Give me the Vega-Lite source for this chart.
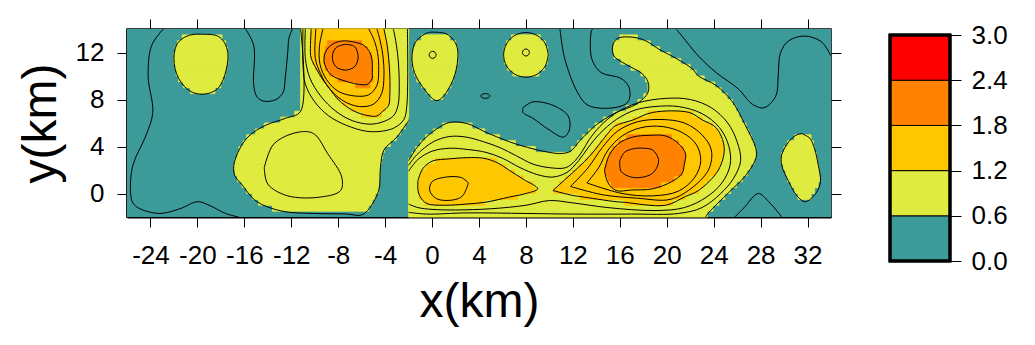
{
  "$schema": "https://vega.github.io/schema/vega-lite/v6.json",
  "background": "white",
  "padding": {"left": 16, "top": 17, "right": 5, "bottom": 5},
  "config": {
    "font": "Liberation Sans",
    "view": {"stroke": null},
    "axis": {"labelFont": "Liberation Sans", "titleFont": "Liberation Sans", "labelColor": "black", "titleColor": "black", "tickColor": "black", "domainColor": "black", "titleFontWeight": "normal", "grid": false}
  },
  "spacing": 45,
  "hconcat": [
    {
      "width": 704,
      "height": 188,
      "view": {"stroke": "black", "strokeWidth": 1.5},
      "layer": [
        {
          "data": {"values": [{"a": -26, "b": 34, "lo": -2, "hi": 14, "v": 0.3}]},
          "mark": {"type": "rect", "strokeWidth": 0},
          "encoding": {
            "x": {"field": "a", "type": "quantitative", "scale": {"domain": [-26, 34], "nice": false, "zero": false},
              "axis": {"orient": "bottom", "values": [-24, -20, -16, -12, -8, -4, 0, 4, 8, 12, 16, 20, 24, 28, 32], "labelExpr": "'' + datum.value", "tickSize": 10, "labelFontSize": 26, "labelPadding": 15, "title": "x(km)", "titleFontSize": 48, "titlePadding": 10, "domain": true, "domainWidth": 2}},
            "x2": {"field": "b"},
            "y": {"field": "lo", "type": "quantitative", "scale": {"domain": [-2, 14], "nice": false, "zero": false},
              "axis": {"orient": "left", "values": [0, 4, 8, 12], "tickSize": 10, "labelFontSize": 26, "labelPadding": 13, "title": "y(km)", "titleFontSize": 48, "titlePadding": 10, "domain": true, "domainWidth": 2}},
            "y2": {"field": "hi"},
            "color": {"field": "v", "type": "quantitative", "scale": {"type": "threshold", "domain": [0.6, 1.2, 1.8, 2.4], "range": ["#3c9a98", "#e0eb3f", "#ffc700", "#ff8200", "#ff0000"]}, "legend": null}
          }
        },
        {
          "data": {"values": [
            {"a": -11.2, "b": -2.0, "lo": 7, "hi": 14, "v": 0.9},
            {"a": -21.3, "b": -17.9, "lo": 13, "hi": 13.5, "v": 0.9},
            {"a": -21.7, "b": -17.6, "lo": 12.5, "hi": 13, "v": 0.9},
            {"a": -21.9, "b": -17.45, "lo": 12, "hi": 12.5, "v": 0.9},
            {"a": -22.0, "b": -17.4, "lo": 11.5, "hi": 12, "v": 0.9},
            {"a": -22.0, "b": -17.4, "lo": 11, "hi": 11.5, "v": 0.9},
            {"a": -21.9, "b": -17.5, "lo": 10.5, "hi": 11, "v": 0.9},
            {"a": -21.8, "b": -17.6, "lo": 10, "hi": 10.5, "v": 0.9},
            {"a": -21.6, "b": -17.8, "lo": 9.5, "hi": 10, "v": 0.9},
            {"a": -21.2, "b": -18.0, "lo": 9, "hi": 9.5, "v": 0.9},
            {"a": -20.6, "b": -18.5, "lo": 8.5, "hi": 9, "v": 0.9},
            {"a": -0.9, "b": 1.5, "lo": 13, "hi": 13.5, "v": 0.9},
            {"a": -1.4, "b": 2.0, "lo": 12.5, "hi": 13, "v": 0.9},
            {"a": -1.6, "b": 2.15, "lo": 12, "hi": 12.5, "v": 0.9},
            {"a": -1.7, "b": 2.2, "lo": 11.5, "hi": 12, "v": 0.9},
            {"a": -1.7, "b": 2.2, "lo": 11, "hi": 11.5, "v": 0.9},
            {"a": -1.65, "b": 2.1, "lo": 10.5, "hi": 11, "v": 0.9},
            {"a": -1.5, "b": 1.95, "lo": 10, "hi": 10.5, "v": 0.9},
            {"a": -1.3, "b": 1.8, "lo": 9.5, "hi": 10, "v": 0.9},
            {"a": -0.9, "b": 1.6, "lo": 9, "hi": 9.5, "v": 0.9},
            {"a": -0.5, "b": 1.3, "lo": 8.5, "hi": 9, "v": 0.9},
            {"a": -0.1, "b": 0.9, "lo": 8, "hi": 8.5, "v": 0.9},
            {"a": 6.77, "b": 9.23, "lo": 13, "hi": 13.5, "v": 0.9},
            {"a": 6.35, "b": 9.65, "lo": 12.5, "hi": 13, "v": 0.9},
            {"a": 6.15, "b": 9.85, "lo": 12, "hi": 12.5, "v": 0.9},
            {"a": 6.1, "b": 9.9, "lo": 11.5, "hi": 12, "v": 0.9},
            {"a": 6.18, "b": 9.82, "lo": 11, "hi": 11.5, "v": 0.9},
            {"a": 6.42, "b": 9.58, "lo": 10.5, "hi": 11, "v": 0.9},
            {"a": 6.9, "b": 9.1, "lo": 10, "hi": 10.5, "v": 0.9},
            {"a": 16.0, "b": 17.5, "lo": 13, "hi": 13.5, "v": 0.9},
            {"a": 15.5, "b": 18.6, "lo": 12.5, "hi": 13, "v": 0.9},
            {"a": 15.4, "b": 19.4, "lo": 12, "hi": 12.5, "v": 0.9},
            {"a": 15.5, "b": 20.3, "lo": 11.5, "hi": 12, "v": 0.9},
            {"a": 16.1, "b": 21.2, "lo": 11, "hi": 11.5, "v": 0.9},
            {"a": 16.95, "b": 22.0, "lo": 10.5, "hi": 11, "v": 0.9},
            {"a": 17.8, "b": 22.5, "lo": 10, "hi": 10.5, "v": 0.9},
            {"a": 18.2, "b": 23.2, "lo": 9.5, "hi": 10, "v": 0.9},
            {"a": 18.4, "b": 24.1, "lo": 9, "hi": 9.5, "v": 0.9},
            {"a": 18.4, "b": 24.65, "lo": 8.5, "hi": 9, "v": 0.9},
            {"a": 18.05, "b": 25.15, "lo": 8, "hi": 8.5, "v": 0.9},
            {"a": 17.55, "b": 25.6, "lo": 7.5, "hi": 8, "v": 0.9},
            {"a": 16.55, "b": 25.9, "lo": 7, "hi": 7.5, "v": 0.9},
            {"a": -11.7, "b": -2.0, "lo": 6.5, "hi": 7, "v": 0.9},
            {"a": 15.45, "b": 26.15, "lo": 6.5, "hi": 7, "v": 0.9},
            {"a": -12.9, "b": -2.05, "lo": 6, "hi": 6.5, "v": 0.9},
            {"a": 14.6, "b": 26.4, "lo": 6, "hi": 6.5, "v": 0.9},
            {"a": -14.3, "b": -2.3, "lo": 5.5, "hi": 6, "v": 0.9},
            {"a": 0.9, "b": 3.4, "lo": 5.5, "hi": 6, "v": 0.9},
            {"a": 13.9, "b": 26.75, "lo": 5.5, "hi": 6, "v": 0.9},
            {"a": -15.05, "b": -2.7, "lo": 5, "hi": 5.5, "v": 0.9},
            {"a": 0.1, "b": 4.5, "lo": 5, "hi": 5.5, "v": 0.9},
            {"a": 13.35, "b": 26.95, "lo": 5, "hi": 5.5, "v": 0.9},
            {"a": -15.8, "b": -3.05, "lo": 4.5, "hi": 5, "v": 0.9},
            {"a": -0.55, "b": 5.75, "lo": 4.5, "hi": 5, "v": 0.9},
            {"a": 12.85, "b": 27.2, "lo": 4.5, "hi": 5, "v": 0.9},
            {"a": 30.9, "b": 32.3, "lo": 4.5, "hi": 5, "v": 0.9},
            {"a": -16.1, "b": -3.55, "lo": 4, "hi": 4.5, "v": 0.9},
            {"a": -1.0, "b": 7.1, "lo": 4, "hi": 4.5, "v": 0.9},
            {"a": 12.4, "b": 27.4, "lo": 4, "hi": 4.5, "v": 0.9},
            {"a": 30.3, "b": 32.5, "lo": 4, "hi": 4.5, "v": 0.9},
            {"a": -16.45, "b": -4.05, "lo": 3.5, "hi": 4, "v": 0.9},
            {"a": -1.4, "b": 8.8, "lo": 3.5, "hi": 4, "v": 0.9},
            {"a": 11.9, "b": 27.6, "lo": 3.5, "hi": 4, "v": 0.9},
            {"a": 30.0, "b": 32.6, "lo": 3.5, "hi": 4, "v": 0.9},
            {"a": -16.6, "b": -4.2, "lo": 3, "hi": 3.5, "v": 0.9},
            {"a": -1.7, "b": 27.6, "lo": 3, "hi": 3.5, "v": 0.9},
            {"a": 29.8, "b": 32.75, "lo": 3, "hi": 3.5, "v": 0.9},
            {"a": -16.8, "b": -4.3, "lo": 2.5, "hi": 3, "v": 0.9},
            {"a": -2.0, "b": 27.45, "lo": 2.5, "hi": 3, "v": 0.9},
            {"a": 29.75, "b": 32.85, "lo": 2.5, "hi": 3, "v": 0.9},
            {"a": -16.9, "b": -4.4, "lo": 2, "hi": 2.5, "v": 0.9},
            {"a": -2.0, "b": 27.15, "lo": 2, "hi": 2.5, "v": 0.9},
            {"a": 29.95, "b": 32.95, "lo": 2, "hi": 2.5, "v": 0.9},
            {"a": -16.8, "b": -4.45, "lo": 1.5, "hi": 2, "v": 0.9},
            {"a": -2.0, "b": 26.85, "lo": 1.5, "hi": 2, "v": 0.9},
            {"a": 30.15, "b": 33.0, "lo": 1.5, "hi": 2, "v": 0.9},
            {"a": -16.6, "b": -4.5, "lo": 1, "hi": 1.5, "v": 0.9},
            {"a": -2.0, "b": 26.45, "lo": 1, "hi": 1.5, "v": 0.9},
            {"a": 30.3, "b": 33.05, "lo": 1, "hi": 1.5, "v": 0.9},
            {"a": -16.2, "b": -4.5, "lo": 0.5, "hi": 1, "v": 0.9},
            {"a": -2.0, "b": 25.95, "lo": 0.5, "hi": 1, "v": 0.9},
            {"a": 30.6, "b": 32.9, "lo": 0.5, "hi": 1, "v": 0.9},
            {"a": -15.8, "b": -4.55, "lo": 0, "hi": 0.5, "v": 0.9},
            {"a": -2.0, "b": 25.45, "lo": 0, "hi": 0.5, "v": 0.9},
            {"a": 30.9, "b": 32.6, "lo": 0, "hi": 0.5, "v": 0.9},
            {"a": -15.3, "b": -4.85, "lo": -0.5, "hi": 0, "v": 0.9},
            {"a": -2.0, "b": 24.95, "lo": -0.5, "hi": 0, "v": 0.9},
            {"a": 31.2, "b": 32.3, "lo": -0.5, "hi": 0, "v": 0.9},
            {"a": -14.8, "b": -5.1, "lo": -1, "hi": -0.5, "v": 0.9},
            {"a": -2.0, "b": 24.45, "lo": -1, "hi": -0.5, "v": 0.9},
            {"a": -13.6, "b": -5.4, "lo": -1.5, "hi": -1, "v": 0.9},
            {"a": -2.0, "b": 23.95, "lo": -1.5, "hi": -1, "v": 0.9},
            {"a": -2.0, "b": 23.45, "lo": -2, "hi": -1.5, "v": 0.9},
            {"a": -10.3, "b": -4.05, "lo": 13.5, "hi": 14, "v": 1.5},
            {"a": -10.35, "b": -3.95, "lo": 13, "hi": 13.5, "v": 1.5},
            {"a": -10.35, "b": -3.85, "lo": 12.5, "hi": 13, "v": 1.5},
            {"a": -10.35, "b": -3.75, "lo": 12, "hi": 12.5, "v": 1.5},
            {"a": -10.35, "b": -3.7, "lo": 11.5, "hi": 12, "v": 1.5},
            {"a": -10.2, "b": -3.65, "lo": 11, "hi": 11.5, "v": 1.5},
            {"a": -9.95, "b": -3.6, "lo": 10.5, "hi": 11, "v": 1.5},
            {"a": -9.65, "b": -3.6, "lo": 10, "hi": 10.5, "v": 1.5},
            {"a": -9.35, "b": -3.6, "lo": 9.5, "hi": 10, "v": 1.5},
            {"a": -8.95, "b": -3.6, "lo": 9, "hi": 9.5, "v": 1.5},
            {"a": -8.6, "b": -3.65, "lo": 8.5, "hi": 9, "v": 1.5},
            {"a": -8.2, "b": -3.7, "lo": 8, "hi": 8.5, "v": 1.5},
            {"a": -7.6, "b": -3.65, "lo": 7.5, "hi": 8, "v": 1.5},
            {"a": -6.9, "b": -4.0, "lo": 7, "hi": 7.5, "v": 1.5},
            {"a": -6.0, "b": -4.3, "lo": 6.5, "hi": 7, "v": 1.5},
            {"a": 0.3, "b": 5.5, "lo": 2.5, "hi": 3, "v": 1.5},
            {"a": -0.5, "b": 6.3, "lo": 2, "hi": 2.5, "v": 1.5},
            {"a": -0.9, "b": 7.0, "lo": 1.5, "hi": 2, "v": 1.5},
            {"a": -1.1, "b": 7.8, "lo": 1, "hi": 1.5, "v": 1.5},
            {"a": -1.2, "b": 8.6, "lo": 0.5, "hi": 1, "v": 1.5},
            {"a": -1.2, "b": 8.8, "lo": 0, "hi": 0.5, "v": 1.5},
            {"a": -1.1, "b": 7.3, "lo": -0.5, "hi": 0, "v": 1.5},
            {"a": -0.6, "b": 4.5, "lo": -1, "hi": -0.5, "v": 1.5},
            {"a": 18.4, "b": 22.2, "lo": 6.5, "hi": 7, "v": 1.5},
            {"a": 17.1, "b": 23.05, "lo": 6, "hi": 6.5, "v": 1.5},
            {"a": 15.6, "b": 23.9, "lo": 5.5, "hi": 6, "v": 1.5},
            {"a": 15.1, "b": 24.35, "lo": 5, "hi": 5.5, "v": 1.5},
            {"a": 14.7, "b": 24.55, "lo": 4.5, "hi": 5, "v": 1.5},
            {"a": 14.3, "b": 24.75, "lo": 4, "hi": 4.5, "v": 1.5},
            {"a": 13.9, "b": 24.86, "lo": 3.5, "hi": 4, "v": 1.5},
            {"a": 13.5, "b": 24.73, "lo": 3, "hi": 3.5, "v": 1.5},
            {"a": 13.05, "b": 24.6, "lo": 2.5, "hi": 3, "v": 1.5},
            {"a": 12.5, "b": 24.47, "lo": 2, "hi": 2.5, "v": 1.5},
            {"a": 11.95, "b": 24.16, "lo": 1.5, "hi": 2, "v": 1.5},
            {"a": 11.4, "b": 23.67, "lo": 1, "hi": 1.5, "v": 1.5},
            {"a": 10.85, "b": 23.19, "lo": 0.5, "hi": 1, "v": 1.5},
            {"a": 10.4, "b": 22.7, "lo": 0, "hi": 0.5, "v": 1.5},
            {"a": 12.56, "b": 21.6, "lo": -0.5, "hi": 0, "v": 1.5},
            {"a": 16.4, "b": 20.5, "lo": -1, "hi": -0.5, "v": 1.5},
            {"a": -8.9, "b": -6.0, "lo": 12.5, "hi": 13, "v": 2.1},
            {"a": -9.1, "b": -5.5, "lo": 12, "hi": 12.5, "v": 2.1},
            {"a": -9.2, "b": -5.2, "lo": 11.5, "hi": 12, "v": 2.1},
            {"a": -9.2, "b": -5.1, "lo": 11, "hi": 11.5, "v": 2.1},
            {"a": -9.1, "b": -5.1, "lo": 10.5, "hi": 11, "v": 2.1},
            {"a": -8.75, "b": -5.1, "lo": 10, "hi": 10.5, "v": 2.1},
            {"a": -8.0, "b": -5.05, "lo": 9.5, "hi": 10, "v": 2.1},
            {"a": -6.5, "b": -5.3, "lo": 9, "hi": 9.5, "v": 2.1},
            {"a": 16.6, "b": 20.4, "lo": 4.5, "hi": 5, "v": 2.1},
            {"a": 15.9, "b": 21.0, "lo": 4, "hi": 4.5, "v": 2.1},
            {"a": 15.4, "b": 21.4, "lo": 3.5, "hi": 4, "v": 2.1},
            {"a": 15.1, "b": 21.6, "lo": 3, "hi": 3.5, "v": 2.1},
            {"a": 14.9, "b": 21.55, "lo": 2.5, "hi": 3, "v": 2.1},
            {"a": 14.75, "b": 21.45, "lo": 2, "hi": 2.5, "v": 2.1},
            {"a": 14.75, "b": 21.3, "lo": 1.5, "hi": 2, "v": 2.1},
            {"a": 15.0, "b": 20.6, "lo": 1, "hi": 1.5, "v": 2.1},
            {"a": 15.3, "b": 19.5, "lo": 0.5, "hi": 1, "v": 2.1}
          ]},
          "mark": {"type": "rect", "strokeWidth": 0.9},
          "encoding": {
            "x": {"field": "a", "type": "quantitative",
              "axis": {"orient": "top", "values": [-24, -20, -16, -12, -8, -4, 0, 4, 8, 12, 16, 20, 24, 28, 32], "tickSize": 10, "labels": false, "title": null, "domain": false}},
            "x2": {"field": "b"},
            "y": {"field": "lo", "type": "quantitative",
              "axis": {"orient": "right", "values": [0, 4, 8, 12], "tickSize": 10, "labels": false, "title": null, "domain": false}},
            "y2": {"field": "hi"},
            "color": {"field": "v", "type": "quantitative", "scale": {"type": "threshold", "domain": [0.6, 1.2, 1.8, 2.4], "range": ["#3c9a98", "#e0eb3f", "#ffc700", "#ff8200", "#ff0000"]}, "legend": null},
            "stroke": {"field": "v", "type": "quantitative", "scale": {"type": "threshold", "domain": [0.6, 1.2, 1.8, 2.4], "range": ["#3c9a98", "#e0eb3f", "#ffc700", "#ff8200", "#ff0000"]}, "legend": null}
          }
        },
        {
          "data": {"values": [
            {"k": "A", "x": -19.6, "y": 13.55}, {"k": "A", "x": -18.4, "y": 13.45}, {"k": "A", "x": -17.8, "y": 13.0}, {"k": "A", "x": -17.45, "y": 12.2}, {"k": "A", "x": -17.4, "y": 11.4}, {"k": "A", "x": -17.55, "y": 10.5}, {"k": "A", "x": -17.8, "y": 9.7}, {"k": "A", "x": -18.2, "y": 9.0}, {"k": "A", "x": -18.8, "y": 8.6}, {"k": "A", "x": -19.6, "y": 8.45}, {"k": "A", "x": -20.4, "y": 8.6}, {"k": "A", "x": -21.1, "y": 9.1}, {"k": "A", "x": -21.6, "y": 9.8}, {"k": "A", "x": -21.9, "y": 10.6}, {"k": "A", "x": -22.0, "y": 11.5}, {"k": "A", "x": -21.9, "y": 12.3}, {"k": "A", "x": -21.6, "y": 12.9}, {"k": "A", "x": -21.0, "y": 13.35}, {"k": "A", "x": -20.3, "y": 13.55}, {"k": "A", "x": -19.6, "y": 13.55},
            {"k": "B06", "x": -11.2, "y": 14}, {"k": "B06", "x": -11.2, "y": 7.0}, {"k": "B06", "x": -12.5, "y": 6.4}, {"k": "B06", "x": -14.2, "y": 5.8}, {"k": "B06", "x": -15.6, "y": 4.9}, {"k": "B06", "x": -16.4, "y": 3.8}, {"k": "B06", "x": -16.9, "y": 2.4}, {"k": "B06", "x": -16.8, "y": 1.5}, {"k": "B06", "x": -16.2, "y": 0.75}, {"k": "B06", "x": -15.0, "y": -0.65}, {"k": "B06", "x": -12.8, "y": -1.5}, {"k": "B06", "x": -10.0, "y": -1.7}, {"k": "B06", "x": -7.2, "y": -1.75}, {"k": "B06", "x": -6.1, "y": -1.85}, {"k": "B06", "x": -5.5, "y": -1.45}, {"k": "B06", "x": -4.55, "y": 0.25}, {"k": "B06", "x": -4.4, "y": 2.2}, {"k": "B06", "x": -4.1, "y": 3.7}, {"k": "B06", "x": -3.0, "y": 4.8}, {"k": "B06", "x": -2.0, "y": 6.2},
            {"k": "C", "x": 0.3, "y": 13.73}, {"k": "C", "x": 1.2, "y": 13.6}, {"k": "C", "x": 1.8, "y": 13.1}, {"k": "C", "x": 2.15, "y": 12.4}, {"k": "C", "x": 2.2, "y": 11.6}, {"k": "C", "x": 2.05, "y": 10.5}, {"k": "C", "x": 1.8, "y": 9.7}, {"k": "C", "x": 1.4, "y": 8.9}, {"k": "C", "x": 0.9, "y": 8.2}, {"k": "C", "x": 0.4, "y": 7.9}, {"k": "C", "x": -0.1, "y": 8.2}, {"k": "C", "x": -0.6, "y": 8.8}, {"k": "C", "x": -1.1, "y": 9.5}, {"k": "C", "x": -1.5, "y": 10.3}, {"k": "C", "x": -1.7, "y": 11.2}, {"k": "C", "x": -1.65, "y": 12.2}, {"k": "C", "x": -1.4, "y": 12.9}, {"k": "C", "x": -0.9, "y": 13.4}, {"k": "C", "x": -0.3, "y": 13.7}, {"k": "C", "x": 0.3, "y": 13.73},
            {"k": "D", "x": 9.9, "y": 11.8}, {"k": "D", "x": 9.65, "y": 12.75}, {"k": "D", "x": 8.95, "y": 13.45}, {"k": "D", "x": 8.0, "y": 13.7}, {"k": "D", "x": 7.05, "y": 13.45}, {"k": "D", "x": 6.35, "y": 12.75}, {"k": "D", "x": 6.1, "y": 11.8}, {"k": "D", "x": 6.35, "y": 10.85}, {"k": "D", "x": 7.05, "y": 10.15}, {"k": "D", "x": 8.0, "y": 9.9}, {"k": "D", "x": 8.95, "y": 10.15}, {"k": "D", "x": 9.65, "y": 10.85}, {"k": "D", "x": 9.9, "y": 11.8},
            {"k": "F", "x": 31.5, "y": 5.1}, {"k": "F", "x": 32.2, "y": 4.7}, {"k": "F", "x": 32.6, "y": 3.8}, {"k": "F", "x": 32.9, "y": 2.5}, {"k": "F", "x": 33.1, "y": 1.0}, {"k": "F", "x": 32.7, "y": 0.0}, {"k": "F", "x": 31.8, "y": -0.7}, {"k": "F", "x": 31.1, "y": -0.2}, {"k": "F", "x": 30.4, "y": 1.0}, {"k": "F", "x": 29.8, "y": 2.4}, {"k": "F", "x": 29.8, "y": 3.3}, {"k": "F", "x": 30.4, "y": 4.4}, {"k": "F", "x": 31.0, "y": 4.95}, {"k": "F", "x": 31.5, "y": 5.1},
            {"k": "E06", "x": -2.0, "y": 2.8}, {"k": "E06", "x": -1.3, "y": 3.9}, {"k": "E06", "x": -0.5, "y": 4.8}, {"k": "E06", "x": 0.4, "y": 5.5}, {"k": "E06", "x": 1.5, "y": 6.05}, {"k": "E06", "x": 3.0, "y": 5.95}, {"k": "E06", "x": 4.4, "y": 5.3}, {"k": "E06", "x": 6.6, "y": 4.4}, {"k": "E06", "x": 8.6, "y": 3.8}, {"k": "E06", "x": 10.0, "y": 3.5}, {"k": "E06", "x": 11.0, "y": 3.4}, {"k": "E06", "x": 11.8, "y": 3.6}, {"k": "E06", "x": 12.6, "y": 4.5}, {"k": "E06", "x": 13.5, "y": 5.4}, {"k": "E06", "x": 14.2, "y": 6.0}, {"k": "E06", "x": 15.7, "y": 6.9}, {"k": "E06", "x": 17.4, "y": 7.6}, {"k": "E06", "x": 18.4, "y": 8.6}, {"k": "E06", "x": 18.4, "y": 9.5}, {"k": "E06", "x": 17.9, "y": 10.2}, {"k": "E06", "x": 16.5, "y": 11.0}, {"k": "E06", "x": 15.5, "y": 11.7}, {"k": "E06", "x": 15.4, "y": 12.6}, {"k": "E06", "x": 15.8, "y": 13.2}, {"k": "E06", "x": 17.1, "y": 13.3}, {"k": "E06", "x": 18.2, "y": 13.0}, {"k": "E06", "x": 19.3, "y": 12.3}, {"k": "E06", "x": 20.8, "y": 11.5}, {"k": "E06", "x": 22.2, "y": 10.6}, {"k": "E06", "x": 22.7, "y": 10.0}, {"k": "E06", "x": 24.2, "y": 9.2}, {"k": "E06", "x": 25.6, "y": 7.8}, {"k": "E06", "x": 26.7, "y": 5.8}, {"k": "E06", "x": 27.6, "y": 3.8}, {"k": "E06", "x": 27.6, "y": 3.0}, {"k": "E06", "x": 26.7, "y": 1.5}, {"k": "E06", "x": 25.3, "y": 0.1}, {"k": "E06", "x": 23.6, "y": -1.6}, {"k": "E06", "x": 23.3, "y": -2.0},
            {"k": "BG", "x": -10.3, "y": 14.0}, {"k": "BG", "x": -10.35, "y": 13.0}, {"k": "BG", "x": -10.35, "y": 11.75}, {"k": "BG", "x": -10.2, "y": 11.25}, {"k": "BG", "x": -9.8, "y": 10.5}, {"k": "BG", "x": -9.35, "y": 9.75}, {"k": "BG", "x": -8.6, "y": 8.75}, {"k": "BG", "x": -8.1, "y": 8.1}, {"k": "BG", "x": -7.3, "y": 7.4}, {"k": "BG", "x": -6.4, "y": 6.9}, {"k": "BG", "x": -5.3, "y": 6.6}, {"k": "BG", "x": -4.7, "y": 6.6}, {"k": "BG", "x": -4.2, "y": 7.0}, {"k": "BG", "x": -3.7, "y": 7.5}, {"k": "BG", "x": -3.6, "y": 8.5}, {"k": "BG", "x": -3.6, "y": 10.0}, {"k": "BG", "x": -3.7, "y": 11.5}, {"k": "BG", "x": -3.85, "y": 12.75}, {"k": "BG", "x": -4.05, "y": 13.75}, {"k": "BG", "x": -4.1, "y": 14.0},
            {"k": "BO", "x": -7.5, "y": 13.0}, {"k": "BO", "x": -6.7, "y": 12.9}, {"k": "BO", "x": -5.8, "y": 12.6}, {"k": "BO", "x": -5.3, "y": 12.0}, {"k": "BO", "x": -5.1, "y": 11.2}, {"k": "BO", "x": -5.1, "y": 10.3}, {"k": "BO", "x": -5.1, "y": 9.8}, {"k": "BO", "x": -5.5, "y": 9.3}, {"k": "BO", "x": -5.8, "y": 9.25}, {"k": "BO", "x": -6.6, "y": 9.35}, {"k": "BO", "x": -7.5, "y": 9.6}, {"k": "BO", "x": -8.3, "y": 9.9}, {"k": "BO", "x": -8.8, "y": 10.3}, {"k": "BO", "x": -9.2, "y": 11.2}, {"k": "BO", "x": -9.1, "y": 12.0}, {"k": "BO", "x": -8.8, "y": 12.45}, {"k": "BO", "x": -8.2, "y": 12.85}, {"k": "BO", "x": -7.5, "y": 13.0},
            {"k": "B08", "x": -11.0, "y": 14}, {"k": "B08", "x": -11.0, "y": 11}, {"k": "B08", "x": -10.8, "y": 9.3}, {"k": "B08", "x": -10.0, "y": 7.8}, {"k": "B08", "x": -8.8, "y": 6.6}, {"k": "B08", "x": -7.3, "y": 5.8}, {"k": "B08", "x": -5.6, "y": 5.3}, {"k": "B08", "x": -4.3, "y": 5.3}, {"k": "B08", "x": -3.2, "y": 5.6}, {"k": "B08", "x": -2.4, "y": 6.3}, {"k": "B08", "x": -2.15, "y": 7.5}, {"k": "B08", "x": -2.1, "y": 14},
            {"k": "B10", "x": -10.8, "y": 14}, {"k": "B10", "x": -10.8, "y": 11.5}, {"k": "B10", "x": -10.4, "y": 9.8}, {"k": "B10", "x": -9.5, "y": 8.3}, {"k": "B10", "x": -8.2, "y": 7.0}, {"k": "B10", "x": -6.8, "y": 6.2}, {"k": "B10", "x": -5.3, "y": 5.9}, {"k": "B10", "x": -4.2, "y": 6.1}, {"k": "B10", "x": -3.3, "y": 6.6}, {"k": "B10", "x": -2.9, "y": 7.5}, {"k": "B10", "x": -2.8, "y": 9.5}, {"k": "B10", "x": -2.9, "y": 11.5}, {"k": "B10", "x": -3.1, "y": 13.0}, {"k": "B10", "x": -3.3, "y": 14},
            {"k": "B14", "x": -9.9, "y": 14}, {"k": "B14", "x": -9.95, "y": 11.5}, {"k": "B14", "x": -9.5, "y": 10.2}, {"k": "B14", "x": -8.8, "y": 9.0}, {"k": "B14", "x": -7.6, "y": 7.9}, {"k": "B14", "x": -6.2, "y": 7.4}, {"k": "B14", "x": -5.0, "y": 7.6}, {"k": "B14", "x": -4.3, "y": 8.5}, {"k": "B14", "x": -4.1, "y": 10.0}, {"k": "B14", "x": -4.2, "y": 11.8}, {"k": "B14", "x": -4.5, "y": 13.3}, {"k": "B14", "x": -4.7, "y": 14},
            {"k": "B16", "x": -9.3, "y": 14}, {"k": "B16", "x": -9.6, "y": 12.5}, {"k": "B16", "x": -9.55, "y": 11.0}, {"k": "B16", "x": -9.0, "y": 9.7}, {"k": "B16", "x": -8.0, "y": 8.7}, {"k": "B16", "x": -6.6, "y": 8.3}, {"k": "B16", "x": -5.4, "y": 8.4}, {"k": "B16", "x": -4.7, "y": 9.2}, {"k": "B16", "x": -4.55, "y": 10.5}, {"k": "B16", "x": -4.65, "y": 12.0}, {"k": "B16", "x": -5.0, "y": 13.2}, {"k": "B16", "x": -5.4, "y": 14},
            {"k": "B20", "x": -7.4, "y": 12.7}, {"k": "B20", "x": -6.6, "y": 12.5}, {"k": "B20", "x": -6.3, "y": 11.6}, {"k": "B20", "x": -6.6, "y": 10.8}, {"k": "B20", "x": -7.4, "y": 10.5}, {"k": "B20", "x": -8.2, "y": 10.8}, {"k": "B20", "x": -8.5, "y": 11.6}, {"k": "B20", "x": -8.2, "y": 12.4}, {"k": "B20", "x": -7.4, "y": 12.7},
            {"k": "BL", "x": -14.3, "y": 2.2}, {"k": "BL", "x": -13.5, "y": 4.2}, {"k": "BL", "x": -11.5, "y": 5.2}, {"k": "BL", "x": -10.1, "y": 5.1}, {"k": "BL", "x": -8.9, "y": 3.4}, {"k": "BL", "x": -7.7, "y": 1.4}, {"k": "BL", "x": -7.8, "y": 0.25}, {"k": "BL", "x": -9.5, "y": -0.3}, {"k": "BL", "x": -12.3, "y": -0.2}, {"k": "BL", "x": -14.0, "y": 0.8}, {"k": "BL", "x": -14.3, "y": 2.2},
            {"k": "EGL", "x": -1.2, "y": 1.1}, {"k": "EGL", "x": -0.8, "y": 2.1}, {"k": "EGL", "x": 0.0, "y": 2.75}, {"k": "EGL", "x": 1.5, "y": 2.95}, {"k": "EGL", "x": 3.0, "y": 3.05}, {"k": "EGL", "x": 4.4, "y": 3.0}, {"k": "EGL", "x": 5.6, "y": 2.6}, {"k": "EGL", "x": 6.6, "y": 1.96}, {"k": "EGL", "x": 7.8, "y": 1.2}, {"k": "EGL", "x": 9.0, "y": 0.4}, {"k": "EGL", "x": 8.0, "y": 0.0}, {"k": "EGL", "x": 6.6, "y": -0.3}, {"k": "EGL", "x": 4.5, "y": -0.75}, {"k": "EGL", "x": 2.9, "y": -0.9}, {"k": "EGL", "x": 1.0, "y": -1.0}, {"k": "EGL", "x": -0.45, "y": -0.85}, {"k": "EGL", "x": -1.0, "y": -0.3}, {"k": "EGL", "x": -1.2, "y": 0.3}, {"k": "EGL", "x": -1.2, "y": 1.1},
            {"k": "EGR", "x": 10.3, "y": 0.25}, {"k": "EGR", "x": 11.4, "y": 1.25}, {"k": "EGR", "x": 12.5, "y": 2.25}, {"k": "EGR", "x": 13.5, "y": 3.25}, {"k": "EGR", "x": 14.3, "y": 4.25}, {"k": "EGR", "x": 15.1, "y": 5.25}, {"k": "EGR", "x": 15.6, "y": 5.75}, {"k": "EGR", "x": 17.1, "y": 6.25}, {"k": "EGR", "x": 18.8, "y": 6.9}, {"k": "EGR", "x": 21.9, "y": 6.9}, {"k": "EGR", "x": 23.05, "y": 6.25}, {"k": "EGR", "x": 24.2, "y": 5.6}, {"k": "EGR", "x": 24.9, "y": 3.9}, {"k": "EGR", "x": 24.4, "y": 2.0}, {"k": "EGR", "x": 22.7, "y": 0.25}, {"k": "EGR", "x": 21.6, "y": -0.25}, {"k": "EGR", "x": 19.9, "y": -1.0}, {"k": "EGR", "x": 16.4, "y": -0.75}, {"k": "EGR", "x": 15.7, "y": -0.7}, {"k": "EGR", "x": 12.56, "y": -0.25}, {"k": "EGR", "x": 12.0, "y": -0.17}, {"k": "EGR", "x": 10.3, "y": 0.25},
            {"k": "EO", "x": 14.7, "y": 1.96}, {"k": "EO", "x": 15.1, "y": 3.25}, {"k": "EO", "x": 15.9, "y": 4.25}, {"k": "EO", "x": 17.1, "y": 4.8}, {"k": "EO", "x": 18.5, "y": 4.95}, {"k": "EO", "x": 19.9, "y": 4.9}, {"k": "EO", "x": 21.0, "y": 4.25}, {"k": "EO", "x": 21.6, "y": 3.4}, {"k": "EO", "x": 21.5, "y": 2.5}, {"k": "EO", "x": 21.3, "y": 1.7}, {"k": "EO", "x": 20.4, "y": 1.0}, {"k": "EO", "x": 18.8, "y": 0.4}, {"k": "EO", "x": 17.0, "y": 0.3}, {"k": "EO", "x": 15.7, "y": 0.25}, {"k": "EO", "x": 15.0, "y": 0.9}, {"k": "EO", "x": 14.7, "y": 1.96},
            {"k": "E08", "x": -2.0, "y": 2.4}, {"k": "E08", "x": -1.3, "y": 3.3}, {"k": "E08", "x": 0.1, "y": 4.4}, {"k": "E08", "x": 1.5, "y": 4.85}, {"k": "E08", "x": 2.9, "y": 4.8}, {"k": "E08", "x": 4.4, "y": 4.4}, {"k": "E08", "x": 5.8, "y": 3.9}, {"k": "E08", "x": 7.2, "y": 3.2}, {"k": "E08", "x": 8.6, "y": 2.5}, {"k": "E08", "x": 10.0, "y": 2.2}, {"k": "E08", "x": 11.4, "y": 2.2}, {"k": "E08", "x": 12.2, "y": 2.8}, {"k": "E08", "x": 12.8, "y": 3.6}, {"k": "E08", "x": 13.4, "y": 4.6}, {"k": "E08", "x": 14.3, "y": 5.7}, {"k": "E08", "x": 15.6, "y": 6.8}, {"k": "E08", "x": 17.5, "y": 7.7}, {"k": "E08", "x": 20.0, "y": 8.1}, {"k": "E08", "x": 22.0, "y": 8.0}, {"k": "E08", "x": 23.8, "y": 7.3}, {"k": "E08", "x": 25.2, "y": 6.0}, {"k": "E08", "x": 26.0, "y": 4.4}, {"k": "E08", "x": 26.3, "y": 2.8}, {"k": "E08", "x": 25.7, "y": 1.3}, {"k": "E08", "x": 24.6, "y": 0.0}, {"k": "E08", "x": 23.0, "y": -1.2}, {"k": "E08", "x": 21.0, "y": -1.7}, {"k": "E08", "x": 17.0, "y": -1.75}, {"k": "E08", "x": 12.0, "y": -1.75}, {"k": "E08", "x": 8.0, "y": -1.7}, {"k": "E08", "x": 3.0, "y": -1.65}, {"k": "E08", "x": -0.5, "y": -1.75}, {"k": "E08", "x": -2.0, "y": -1.6},
            {"k": "E10", "x": -2.0, "y": 1.9}, {"k": "E10", "x": -1.2, "y": 2.9}, {"k": "E10", "x": 0.0, "y": 3.6}, {"k": "E10", "x": 1.5, "y": 3.85}, {"k": "E10", "x": 3.0, "y": 3.75}, {"k": "E10", "x": 4.6, "y": 3.5}, {"k": "E10", "x": 6.0, "y": 3.0}, {"k": "E10", "x": 7.5, "y": 2.2}, {"k": "E10", "x": 9.0, "y": 1.6}, {"k": "E10", "x": 10.3, "y": 1.4}, {"k": "E10", "x": 11.5, "y": 1.8}, {"k": "E10", "x": 12.5, "y": 2.8}, {"k": "E10", "x": 13.3, "y": 3.9}, {"k": "E10", "x": 14.3, "y": 5.1}, {"k": "E10", "x": 15.7, "y": 6.3}, {"k": "E10", "x": 17.3, "y": 7.1}, {"k": "E10", "x": 19.0, "y": 7.4}, {"k": "E10", "x": 21.0, "y": 7.4}, {"k": "E10", "x": 23.0, "y": 6.8}, {"k": "E10", "x": 24.5, "y": 5.6}, {"k": "E10", "x": 25.3, "y": 4.0}, {"k": "E10", "x": 25.4, "y": 2.4}, {"k": "E10", "x": 24.7, "y": 0.9}, {"k": "E10", "x": 23.4, "y": -0.3}, {"k": "E10", "x": 21.5, "y": -1.2}, {"k": "E10", "x": 19.0, "y": -1.45}, {"k": "E10", "x": 15.0, "y": -1.2}, {"k": "E10", "x": 12.0, "y": -0.8}, {"k": "E10", "x": 10.0, "y": -0.6}, {"k": "E10", "x": 8.0, "y": -1.0}, {"k": "E10", "x": 5.0, "y": -1.3}, {"k": "E10", "x": 2.0, "y": -1.4}, {"k": "E10", "x": 0.0, "y": -1.35}, {"k": "E10", "x": -1.2, "y": -1.2}, {"k": "E10", "x": -2.0, "y": -0.9},
            {"k": "EL14", "x": 3.1, "y": 0.9}, {"k": "EL14", "x": 2.5, "y": 1.35}, {"k": "EL14", "x": 1.2, "y": 1.4}, {"k": "EL14", "x": 0.0, "y": 1.0}, {"k": "EL14", "x": -0.2, "y": 0.25}, {"k": "EL14", "x": 0.4, "y": -0.45}, {"k": "EL14", "x": 1.8, "y": -0.55}, {"k": "EL14", "x": 2.6, "y": -0.2}, {"k": "EL14", "x": 3.1, "y": 0.9},
            {"k": "ER14", "x": 11.8, "y": 0.6}, {"k": "ER14", "x": 13.3, "y": 2.2}, {"k": "ER14", "x": 14.5, "y": 3.9}, {"k": "ER14", "x": 15.8, "y": 5.3}, {"k": "ER14", "x": 17.5, "y": 6.1}, {"k": "ER14", "x": 19.5, "y": 6.3}, {"k": "ER14", "x": 21.5, "y": 6.0}, {"k": "ER14", "x": 23.0, "y": 5.0}, {"k": "ER14", "x": 23.8, "y": 3.7}, {"k": "ER14", "x": 23.6, "y": 2.1}, {"k": "ER14", "x": 22.3, "y": 0.6}, {"k": "ER14", "x": 20.3, "y": -0.5}, {"k": "ER14", "x": 17.5, "y": -0.4}, {"k": "ER14", "x": 14.5, "y": -0.1}, {"k": "ER14", "x": 11.8, "y": 0.6},
            {"k": "ER16", "x": 13.2, "y": 0.9}, {"k": "ER16", "x": 14.2, "y": 2.2}, {"k": "ER16", "x": 15.0, "y": 3.7}, {"k": "ER16", "x": 16.2, "y": 4.9}, {"k": "ER16", "x": 17.8, "y": 5.6}, {"k": "ER16", "x": 19.6, "y": 5.7}, {"k": "ER16", "x": 21.3, "y": 5.2}, {"k": "ER16", "x": 22.5, "y": 4.2}, {"k": "ER16", "x": 22.9, "y": 2.8}, {"k": "ER16", "x": 22.4, "y": 1.4}, {"k": "ER16", "x": 21.0, "y": 0.2}, {"k": "ER16", "x": 18.8, "y": -0.2}, {"k": "ER16", "x": 16.2, "y": 0.0}, {"k": "ER16", "x": 13.2, "y": 0.9},
            {"k": "ER20", "x": 16.0, "y": 2.8}, {"k": "ER20", "x": 16.4, "y": 3.5}, {"k": "ER20", "x": 17.1, "y": 3.8}, {"k": "ER20", "x": 18.1, "y": 3.85}, {"k": "ER20", "x": 18.8, "y": 3.7}, {"k": "ER20", "x": 19.3, "y": 2.9}, {"k": "ER20", "x": 19.1, "y": 2.1}, {"k": "ER20", "x": 18.6, "y": 1.6}, {"k": "ER20", "x": 17.6, "y": 1.35}, {"k": "ER20", "x": 16.8, "y": 1.45}, {"k": "ER20", "x": 16.1, "y": 1.9}, {"k": "ER20", "x": 16.0, "y": 2.8},
            {"k": "L1", "x": -22.9, "y": 14}, {"k": "L1", "x": -23.9, "y": 12.6}, {"k": "L1", "x": -24.2, "y": 10.0}, {"k": "L1", "x": -23.8, "y": 6.9}, {"k": "L1", "x": -24.4, "y": 4.9}, {"k": "L1", "x": -25.5, "y": 2.4}, {"k": "L1", "x": -25.7, "y": 0.1}, {"k": "L1", "x": -25.5, "y": -0.8}, {"k": "L1", "x": -24.9, "y": -1.3}, {"k": "L1", "x": -23.2, "y": -1.7}, {"k": "L1", "x": -21.5, "y": -1.3}, {"k": "L1", "x": -20.0, "y": -0.7}, {"k": "L1", "x": -19.0, "y": -1.0}, {"k": "L1", "x": -17.6, "y": -1.7}, {"k": "L1", "x": -16.5, "y": -2.0},
            {"k": "L2", "x": -15.9, "y": 14}, {"k": "L2", "x": -15.2, "y": 12.6}, {"k": "L2", "x": -15.2, "y": 9.2}, {"k": "L2", "x": -14.9, "y": 8.2}, {"k": "L2", "x": -14.3, "y": 7.85}, {"k": "L2", "x": -13.3, "y": 8.0}, {"k": "L2", "x": -12.7, "y": 8.6}, {"k": "L2", "x": -12.5, "y": 10.0}, {"k": "L2", "x": -12.3, "y": 12.0}, {"k": "L2", "x": -12.2, "y": 13.2}, {"k": "L2", "x": -11.9, "y": 14},
            {"k": "L3", "x": 10.9, "y": 14}, {"k": "L3", "x": 11.3, "y": 11.5}, {"k": "L3", "x": 12.4, "y": 8.6}, {"k": "L3", "x": 13.3, "y": 7.5}, {"k": "L3", "x": 15.5, "y": 7.3}, {"k": "L3", "x": 16.7, "y": 7.8}, {"k": "L3", "x": 16.8, "y": 9.0}, {"k": "L3", "x": 16.1, "y": 9.8}, {"k": "L3", "x": 14.4, "y": 10.3}, {"k": "L3", "x": 13.6, "y": 11.5}, {"k": "L3", "x": 13.6, "y": 13.9}, {"k": "L3", "x": 13.7, "y": 14},
            {"k": "L4", "x": 7.75, "y": 7.3}, {"k": "L4", "x": 8.6, "y": 7.8}, {"k": "L4", "x": 10.3, "y": 7.5}, {"k": "L4", "x": 11.6, "y": 6.6}, {"k": "L4", "x": 11.7, "y": 5.4}, {"k": "L4", "x": 11.2, "y": 4.8}, {"k": "L4", "x": 10.0, "y": 5.4}, {"k": "L4", "x": 8.6, "y": 6.4}, {"k": "L4", "x": 7.75, "y": 6.9}, {"k": "L4", "x": 7.75, "y": 7.3},
            {"k": "L5", "x": 20.8, "y": 14}, {"k": "L5", "x": 21.3, "y": 13.4}, {"k": "L5", "x": 22.7, "y": 11.7}, {"k": "L5", "x": 24.2, "y": 10.3}, {"k": "L5", "x": 26.1, "y": 8.9}, {"k": "L5", "x": 27.3, "y": 7.6}, {"k": "L5", "x": 28.3, "y": 7.3}, {"k": "L5", "x": 29.3, "y": 8.3}, {"k": "L5", "x": 29.5, "y": 10.0}, {"k": "L5", "x": 29.7, "y": 12.0}, {"k": "L5", "x": 30.4, "y": 13.0}, {"k": "L5", "x": 31.8, "y": 13.4}, {"k": "L5", "x": 33.2, "y": 12.9}, {"k": "L5", "x": 34, "y": 11.7},
            {"k": "L6", "x": 25.8, "y": -2}, {"k": "L6", "x": 26.6, "y": -1.2}, {"k": "L6", "x": 27.8, "y": 0.0}, {"k": "L6", "x": 28.7, "y": -0.7}, {"k": "L6", "x": 29.4, "y": -1.5}, {"k": "L6", "x": 29.8, "y": -2},
            {"k": "T1", "x": 0.35, "y": 11.8}, {"k": "T1", "x": 0.26, "y": 12.01}, {"k": "T1", "x": 0.05, "y": 12.1}, {"k": "T1", "x": -0.16, "y": 12.01}, {"k": "T1", "x": -0.25, "y": 11.8}, {"k": "T1", "x": -0.16, "y": 11.59}, {"k": "T1", "x": 0.05, "y": 11.5}, {"k": "T1", "x": 0.26, "y": 11.59}, {"k": "T1", "x": 0.35, "y": 11.8},
            {"k": "T2", "x": 8.3, "y": 12.0}, {"k": "T2", "x": 8.21, "y": 12.21}, {"k": "T2", "x": 8.0, "y": 12.3}, {"k": "T2", "x": 7.79, "y": 12.21}, {"k": "T2", "x": 7.7, "y": 12.0}, {"k": "T2", "x": 7.79, "y": 11.79}, {"k": "T2", "x": 8.0, "y": 11.7}, {"k": "T2", "x": 8.21, "y": 11.79}, {"k": "T2", "x": 8.3, "y": 12.0},
            {"k": "T3", "x": 4.95, "y": 8.3}, {"k": "T3", "x": 4.83, "y": 8.44}, {"k": "T3", "x": 4.55, "y": 8.5}, {"k": "T3", "x": 4.27, "y": 8.44}, {"k": "T3", "x": 4.15, "y": 8.3}, {"k": "T3", "x": 4.27, "y": 8.16}, {"k": "T3", "x": 4.55, "y": 8.1}, {"k": "T3", "x": 4.83, "y": 8.16}, {"k": "T3", "x": 4.95, "y": 8.3}
          ]},
          "mark": {"type": "line", "color": "black", "strokeWidth": 1, "clip": true, "interpolate": "catmull-rom"},
          "encoding": {
            "x": {"field": "x", "type": "quantitative", "axis": null},
            "y": {"field": "y", "type": "quantitative", "axis": null},
            "detail": {"field": "k"},
            "order": {"value": null}
          }
        }
      ],
      "resolve": {"axis": {"x": "independent", "y": "independent"}}
    },
    {
      "width": 60,
      "height": 232,
      "data": {"values": [
        {"lo": 0, "hi": 0.6, "v": 0.3},
        {"lo": 0.6, "hi": 1.2, "v": 0.9},
        {"lo": 1.2, "hi": 1.8, "v": 1.5},
        {"lo": 1.8, "hi": 2.4, "v": 2.1},
        {"lo": 2.4, "hi": 3.0, "v": 2.7}
      ]},
      "layer": [
        {
          "mark": {"type": "rect", "stroke": "black", "strokeWidth": 1},
          "encoding": {
            "y": {"field": "lo", "type": "quantitative", "scale": {"domain": [0, 3.08], "nice": false, "zero": false},
              "axis": {"orient": "right", "values": [0, 0.6, 1.2, 1.8, 2.4, 3.0], "format": ".1f", "tickSize": 11, "labelPadding": 10, "labelFontSize": 26, "domain": false, "title": null}},
            "y2": {"field": "hi"},
            "color": {"field": "v", "type": "quantitative", "scale": {"type": "threshold", "domain": [0.6, 1.2, 1.8, 2.4], "range": ["#3c9a98", "#e0eb3f", "#ffc700", "#ff8200", "#ff0000"]}, "legend": null}
          }
        },
        {
          "mark": {"type": "rect", "filled": false, "stroke": "black", "strokeWidth": 2.5},
          "encoding": {
            "y": {"datum": 0, "type": "quantitative"},
            "y2": {"datum": 3.0}
          }
        }
      ]
    }
  ]
}
